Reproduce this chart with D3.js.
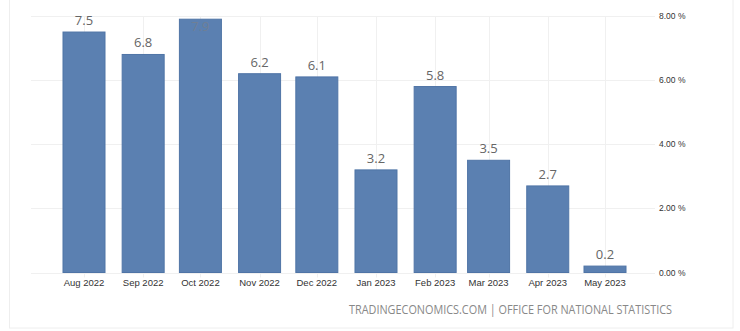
<!DOCTYPE html>
<html>
<head>
<meta charset="utf-8">
<script src="https://cdn.jsdelivr.net/npm/d3@7"></script>
<style>
  html, body { margin: 0; padding: 0; background: #fff; }
  svg { display: block; }
</style>
</head>
<body>
<svg id="chart" width="740" height="331"></svg>
<script>
// UK inflation rate, monthly (%)
const months = ["2022-08", "2022-09", "2022-10", "2022-11", "2022-12",
                "2023-01", "2023-02", "2023-03", "2023-04", "2023-05"];
const values = [7.5, 6.8, 7.9, 6.2, 6.1, 3.2, 5.8, 3.5, 2.7, 0.2];
const yTicks = [0, 2, 4, 6, 8];
const source = "TRADINGECONOMICS.COM | OFFICE FOR NATIONAL STATISTICS";

const parse = d3.timeParse("%Y-%m");
const data = months.map((m, i) => ({ date: parse(m), value: values[i] }));

const svg = d3.select("#chart");
const plot = { left: 31, right: 655, top: 16, bottom: 272.5 };

const x = d3.scaleTime()
  .domain([data[0].date, data[data.length - 1].date])
  .range([84, 605]);
const y = d3.scaleLinear().domain([0, 8]).range([plot.bottom, plot.top]);

// outer frame
svg.append("rect")
  .attr("x", 9.5).attr("y", -5).attr("width", 723.5).attr("height", 333)
  .attr("fill", "none").attr("stroke", "#eeeeee");

// horizontal gridlines
svg.append("g").selectAll("line").data(yTicks).join("line")
  .attr("x1", plot.left).attr("x2", plot.right)
  .attr("y1", d => Math.round(y(d)) + 0.5).attr("y2", d => Math.round(y(d)) + 0.5)
  .attr("stroke", "#f0f0f0");

// vertical gridlines at each month
svg.append("g").selectAll("line").data(data).join("line")
  .attr("x1", d => Math.round(x(d.date)) + 0.5).attr("x2", d => Math.round(x(d.date)) + 0.5)
  .attr("y1", plot.top).attr("y2", plot.bottom + 5)
  .attr("stroke", "#f0f0f0");

// bars
const barW = 42;
svg.append("g").selectAll("rect").data(data).join("rect")
  .attr("x", d => x(d.date) - barW / 2)
  .attr("y", d => y(d.value))
  .attr("width", barW)
  .attr("height", d => y(0) - y(d.value))
  .attr("fill", "#5b80b1")
  .attr("stroke", "#4f74a6")
  .attr("stroke-width", 1);

// value labels (placed inside the bar when there is no room above)
const inside = d => y(d.value) - 7 < plot.top + 6;
svg.append("g").selectAll("text").data(data).join("text")
  .attr("x", d => x(d.date))
  .attr("y", d => inside(d) ? y(d.value) + 12 : y(d.value) - 7)
  .attr("text-anchor", "middle")
  .attr("font-family", "'Open Sans', 'Liberation Sans', sans-serif")
  .attr("font-size", 13)
  .attr("fill", d => inside(d) ? "#6f7f95" : "#666")
  .text(d => d.value.toFixed(1));

// x axis labels
const fmt = d3.timeFormat("%b %Y");
svg.append("g").selectAll("text").data(data).join("text")
  .attr("x", d => x(d.date))
  .attr("y", 285.5)
  .attr("text-anchor", "middle")
  .attr("font-family", "'Liberation Sans', sans-serif")
  .attr("font-size", 9.5)
  .attr("fill", "#333")
  .text(d => fmt(d.date));

// y axis labels on the right
svg.append("g").selectAll("text").data(yTicks).join("text")
  .attr("x", 659)
  .attr("y", d => y(d) + 3)
  .attr("font-family", "'Liberation Sans', sans-serif")
  .attr("font-size", 8.5)
  .attr("fill", "#333")
  .text(d => d.toFixed(2) + " %");

// source line
svg.append("text")
  .attr("x", 349).attr("y", 314)
  .attr("textLength", 323)
  .attr("lengthAdjust", "spacingAndGlyphs")
  .attr("font-family", "'Open Sans', sans-serif")
  .attr("font-size", 12.5)
  .attr("fill", "#888")
  .text(source);
</script>
</body>
</html>
